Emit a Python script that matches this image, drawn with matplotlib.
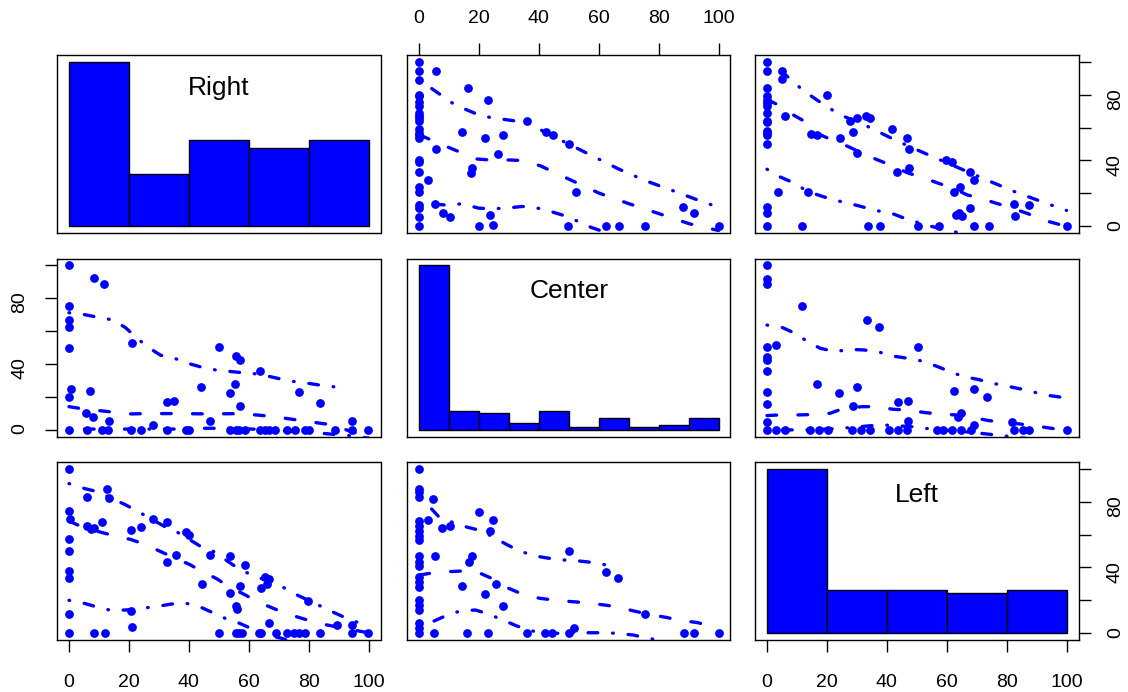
import matplotlib
matplotlib.use("Agg")
import matplotlib.pyplot as plt
import numpy as np

plt.rcParams['font.family'] = ['Liberation Sans', 'DejaVu Sans']

BLUE = '#0000FF'
variables = ["Right", "Center", "Left"]
ticks = [0, 20, 40, 60, 80, 100]

# histogram counts on the diagonal
right_edges = [0, 20, 40, 60, 80, 100]
right_counts = [38, 12, 20, 18, 20]
center_edges = [0, 10, 20, 30, 40, 50, 60, 70, 80, 90, 100]
center_counts = [68, 8, 7, 3, 8, 1, 5, 1, 2, 5]
left_edges = [0, 20, 40, 60, 80, 100]
left_counts = [53, 14, 14, 13, 14]

# Right vs Left points
rl_right = [0, 0, 0.5, 0, 0, 0, 0, 0, 0, 6.1, 12.8, 13.3, 6.1, 7.2, 8.3, 11.1, 8.3, 11.9,
            20.6, 23.9, 20.8, 21.1, 28.1, 32.8, 38.9, 40, 35.6, 32.8, 44.4, 47.2,
            50, 53.7, 53.7, 57, 55.6, 56.1, 55.6, 56.7, 57.8, 58.9, 65.6, 66.7, 66, 64.2,
            66.7, 63.3, 64.2, 69.1, 72.8, 75, 76.7, 78.9, 79.8, 83.9, 89.4, 94.4, 94.4, 99.8]
rl_left = [100, 74.2, 69.2, 57.4, 50.3, 37.7, 33.7, 11.8, 0, 82.8, 87.4, 82.4, 65.1, 63.1, 64.1, 67.7, 0, 0,
           62.5, 64.5, 13.8, 3.7, 69.2, 67.7, 61.7, 59.6, 47.5, 43.4, 30, 47.3,
           0, 46.7, 24.3, 28.8, 16.6, 14.6, 0, 0, 0, 41.6, 34.5, 33.1, 30, 27.8,
           6.1, 0, 0, 0, 0, 0, 0, 0, 19.9, 0, 5.1, 5.1, 0, 0]

# Right vs Center points
rc_right = [0, 8.3, 11.7, 0, 0, 0, 0, 20.9, 0.6, 0, 7, 5.6, 8.1, 13.3, 0, 5.9, 11.1, 13,
            20.8, 23.9, 28, 32.8, 32.6, 35.2, 38.9, 40, 44.2, 47.2, 50, 55.6, 57.2, 55.3,
            53.6, 57, 63.9, 76.9, 83.9, 94.4, 94.4, 99.8, 53.6, 55.6, 56.9, 58.9, 63.9,
            65.6, 66.7, 68.9, 72.8, 75.3, 78.9, 80, 88.9]
rc_center = [100, 91.9, 88.3, 75.4, 66.7, 62.6, 49.9, 52.5, 24.6, 20.2, 23.8, 10.5, 7.9, 5.5, 0, 0, 0, 0,
             0, 0, 3, 0, 17.2, 17.8, 0, 0, 26.3, 5.7, 50.1, 44.8, 42.4, 27.9,
             22.2, 14.5, 36, 23.2, 16.2, 5.7, 0, 0, 0, 0, 0, 0, 0,
             0, 0, 0, 0, 0, 0, 0, 0]

# Center vs Left points
cl_center = [0, 0, 0, 0, 4.8, 20.1, 24.6, 2.9, 0, 0, 0, 0, 0, 7.6, 10.2, 23.8, 0, 0, 0,
             5.4, 17.7, 16.8, 0, 0, 0, 0, 0, 0, 0, 0, 0, 14.3, 22.1, 25.8, 27.9, 50.1,
             62.6, 66.6, 75.4, 5, 16, 22.9, 35.9, 42.2, 44.5, 50.1, 51.7, 88.4, 91.7, 100]
cl_left = [100, 87.6, 85.6, 82.6, 81.7, 73.6, 69, 69, 68, 64.9, 61.9, 58.8, 56.8, 63.9, 64.9, 62.3, 46.7, 43.6, 40.6,
           47.1, 47.1, 43.6, 34.5, 31.4, 28.4, 20.3, 17.2, 14.2, 6.1, 3, 0, 28.8, 23.9, 30, 16.8, 50.3,
           37.5, 33.5, 11.8, 0, 0, 0, 0, 0, 0, 0, 3, 0, 0, 0]

# smoother lines: fit (dashed) and spread (dash-dot)
# row Right, column Center (x = Center, y = Right)
r_on_c_fit = [(0.3, 55.4), (9.8, 48), (19.3, 40.9), (23.8, 40.3), (30.5, 40.3), (35, 39.9), (40.6, 36.7),
              (50.6, 28.2), (60.1, 20.2), (70.2, 13.7), (80.2, 7.7), (90.3, 1.6), (100, -2.5)]
r_on_c_up = [(0, 89), (4.2, 83.7), (12.1, 73.6), (21, 66.9), (31.6, 64.1), (36.1, 63.5), (41.7, 57.5),
             (49.5, 50.4), (58.4, 42.3), (66.8, 34.7), (75.8, 27.6), (86.4, 20.6), (94.7, 14.9), (100.3, 11.5)]
r_on_c_lo = [(0, 14), (4.2, 13.7), (9.3, 12.9), (14.3, 13.7), (19.9, 11.1), (23.8, 10.7), (29.2, 11.1),
             (34.4, 12.1), (38.3, 11.7), (43.9, 9.1), (49.5, 6), (57.5, -0.6), (62.9, -4), (68, -7)]
# row Right, column Left
r_on_l_fit = [(0, 77), (3.9, 73.6), (8.9, 67.5), (12.8, 63.5), (16.7, 56.5), (21.7, 52.4), (27.2, 48.4),
              (31.7, 44.4), (37, 40.3), (41.1, 37.3), (47.2, 32.3), (51.1, 30.2), (57.2, 26.2), (62.2, 23.2),
              (66.7, 19.2), (71.1, 17.1), (77.2, 13.7), (81.1, 11.5), (87.2, 7.7), (91.1, 4.4), (100, 0)]
r_on_l_up = [(0, 99), (4.4, 94.8), (12.2, 82.3), (20, 72.6), (24.7, 67.5), (33.3, 60.9), (42.8, 52.4),
             (51.4, 45.4), (61.7, 37.3), (73.3, 28.2), (83.3, 20.6), (92.2, 14.7), (100, 9.7)]
r_on_l_lo = [(0, 34.7), (4.4, 30), (8.7, 26.6), (13.6, 21.2), (18, 18.5), (22.2, 16.1), (27.2, 14.1),
             (32.2, 11.7), (36.1, 9.7), (41.4, 8.1), (46.7, 4.4), (51.1, 2), (57, -1), (64.4, -4), (70, -7)]
# row Center, column Right
c_on_r_fit = [(0, 14.1), (4.2, 12.9), (10.2, 11.7), (15, 10.7), (20.9, 9.7), (25.6, 9.9), (36.1, 9.9),
              (46.9, 9.7), (57.6, 9.9), (68.3, 8.1), (78.9, 5.3), (88.9, 2.8), (94, -1), (100, -4)]
c_on_r_up = [(0, 71.1), (5, 70), (9.8, 68.3), (14.7, 66.7), (18.9, 62), (22.4, 56.2), (26.1, 50.5),
             (30.6, 45.3), (35, 43.6), (39.7, 40.4), (44.4, 38), (48.9, 36.4), (54.1, 35.4), (59.1, 34.5),
             (63.3, 33.9), (68.7, 31.7), (73.6, 29.7), (78.3, 28.7), (83.3, 27.3), (88, 26.3), (93.1, 24.6)]
c_on_r_lo = [(0, 0.5), (20, 0.5), (35, 0.5), (44.2, 1), (54.4, 1), (67.8, 0), (83.9, -2), (94.4, -3.6), (100, -5)]
# row Center, column Left
c_on_l_fit = [(0, 8.7), (4.4, 9.1), (10.6, 9.1), (15, 9.3), (21.1, 10.1), (25.6, 13.1), (31.7, 14.1),
              (36.1, 14.1), (42.2, 12.5), (46.7, 12.1), (52.8, 10.5), (57.2, 9.7), (62.8, 9.1), (67.2, 8.1),
              (73.9, 5.7), (78.3, 4.8), (84.4, 3.6), (88.9, 2.6), (95.6, 0.8), (100, 0)]
c_on_l_up = [(0, 63.6), (5, 62.2), (9.4, 58.6), (13.6, 53.5), (17.8, 49.5), (22.8, 47.5), (27.6, 48.9),
             (32.4, 48.5), (36.9, 47.5), (42, 44.8), (47.2, 43.4), (51.7, 41.8), (56.4, 38.8), (61.1, 35.4),
             (65.6, 32.3), (70.3, 30.7), (75.3, 28.3), (79.8, 26.7), (84.8, 24.8), (89.8, 22.6), (94.4, 20.8),
             (99.2, 19.6)]
c_on_l_lo = [(0, 0), (15, 0), (25, 1), (35, 2.6), (38.9, 3), (48, 2), (55.6, 0.4), (68.9, -1.6), (81.1, -4), (90, -6)]
# row Left, column Right
l_on_r_fit = [(0, 68.2), (5, 64.1), (10, 61.7), (14.4, 59.6), (20.6, 57), (24.8, 54.4), (30.3, 49.9),
              (33.9, 46.9), (40.3, 41.8), (43.9, 38.1), (49.4, 33.1), (53.3, 28.4), (58.9, 23.3), (62.8, 19.3),
              (72.2, 12.2), (83.3, 6.1), (99.8, 0.4)]
l_on_r_up = [(0, 90.9), (5, 88), (9.4, 86), (18.6, 78.3), (22.8, 74.2), (31.7, 65.1), (35.9, 61.7),
             (44.4, 52.3), (48.3, 49.7), (57.2, 38.5), (61.1, 35.5), (71.1, 28.4), (75, 24.3), (84.4, 16.2),
             (87.8, 13.2), (92.8, 9.1), (97.2, 6.1), (99.8, 4.5)]
l_on_r_lo = [(0, 20.1), (5, 18.3), (9.4, 16), (14.4, 13.8), (20.6, 14.4), (23.9, 15.2), (28.9, 16.2),
             (34.1, 17.8), (38.6, 18.5), (43.6, 16.2), (48, 12.6), (52.2, 9.1), (57, 6.1), (62, 2),
             (66.1, -1), (71.1, -3), (76, -6)]
# row Left, column Center
l_on_c_fit = [(0.3, 35.5), (3.9, 36.5), (10.4, 37.5), (14.6, 37.9), (20.4, 36.5), (24.9, 32.9), (29.9, 27.4),
              (34.4, 23.9), (40.3, 21.3), (44.8, 20.3), (50.8, 19.3), (55.4, 18.7), (61.2, 17.4), (66, 16.2),
              (72.2, 13.4), (76.3, 11.8), (82.5, 9.7), (86.9, 8.1), (93.1, 6.5), (97.5, 4.5), (100, 3.8)]
l_on_c_up = [(0.5, 82), (3.9, 76.1), (7, 70), (16, 64.5), (20.4, 62.5), (24.9, 58.4), (29.4, 53.8),
             (33.3, 50.3), (38.3, 47.1), (43.4, 45.6), (47.8, 44.6), (53.1, 44), (58.2, 43), (62.3, 41.6)]
l_on_c_lo = [(0, 5.5), (4.5, 7.1), (8.7, 10.5), (13.7, 13.6), (18.8, 14.2), (23.2, 11.8), (28, 8.1),
             (32.7, 4.5), (36.6, 2), (40.6, 0.4), (47.3, 0), (51, 0.4), (56.8, 0.4), (62, 0.4), (66.5, 0),
             (71.6, -1), (76.5, -3), (81.3, -4.5), (88, -7)]

DASHED = (0, (2.9, 6.4))
DASHDOT = (0, (0.2, 4.45, 2.9, 4.45))

W, H = 1128, 692
col_left = [57, 407, 755]
row_top = [55, 258.5, 462]
pw, ph = 323.5, 178


def panel_rect(i, j):
    return [col_left[j] / W, 1 - (row_top[i] + ph) / H, pw / W, ph / H]


def scatter_panel(ax, x, y, fit, upper, lower):
    ax.plot(x, y, 'o', color=BLUE, ms=6.3, mew=0, zorder=2)
    for line, ls in ((fit, DASHED), (upper, DASHDOT), (lower, DASHDOT)):
        xs, ys = zip(*line)
        ax.plot(xs, ys, color=BLUE, lw=2.4, linestyle=ls,
                dash_capstyle='round', solid_capstyle='round', zorder=3)


fig = plt.figure(figsize=(W / 100, H / 100), dpi=100)

axes = {}
for i in range(3):
    for j in range(3):
        ax = fig.add_axes(panel_rect(i, j))
        axes[i, j] = ax
        ax.set_xlim(-4, 104)
        ax.set_ylim(-4, 104)
        for s in ax.spines.values():
            s.set_linewidth(1.0)
        ax.set_xticks(ticks)
        ax.set_xticklabels([str(t) for t in ticks])
        ax.set_yticks(ticks)
        ax.set_yticklabels(['0', '', '40', '', '80', ''])
        ax.tick_params(length=8.5, width=1.0, labelsize=14, direction='out')
        ax.tick_params(axis='x', pad=16 if i == 2 else 12,
                       bottom=(i == 2 and j % 2 == 0), labelbottom=(i == 2 and j % 2 == 0),
                       top=(i == 0 and j % 2 == 1), labeltop=(i == 0 and j % 2 == 1))
        ax.tick_params(axis='y', pad=12, labelrotation=90,
                       left=(j == 0 and i % 2 == 1), labelleft=(j == 0 and i % 2 == 1),
                       right=(j == 2 and i % 2 == 0), labelright=(j == 2 and i % 2 == 0))

scatter_panel(axes[0, 1], rc_center, rc_right, r_on_c_fit, r_on_c_up, r_on_c_lo)
scatter_panel(axes[0, 2], rl_left, rl_right, r_on_l_fit, r_on_l_up, r_on_l_lo)
scatter_panel(axes[1, 0], rc_right, rc_center, c_on_r_fit, c_on_r_up, c_on_r_lo)
scatter_panel(axes[1, 2], cl_left, cl_center, c_on_l_fit, c_on_l_up, c_on_l_lo)
scatter_panel(axes[2, 0], rl_right, rl_left, l_on_r_fit, l_on_r_up, l_on_r_lo)
scatter_panel(axes[2, 1], cl_center, cl_left, l_on_c_fit, l_on_c_up, l_on_c_lo)

hists = [(right_edges, right_counts), (center_edges, center_counts), (left_edges, left_counts)]
for k, (edges, counts) in enumerate(hists):
    hax = fig.add_axes(panel_rect(k, k), sharex=axes[k, k])
    hax.axis('off')
    m = max(counts)
    hax.bar(edges[:-1], counts, width=np.diff(edges), align='edge',
            color=BLUE, edgecolor='black', linewidth=1.0)
    hax.set_ylim(-0.04 * m, 1.04 * m)
    hax.text(0.5, 0.778, variables[k], transform=hax.transAxes,
             ha='center', va='baseline', fontsize=19)

fig.savefig('out.png', dpi=100)
